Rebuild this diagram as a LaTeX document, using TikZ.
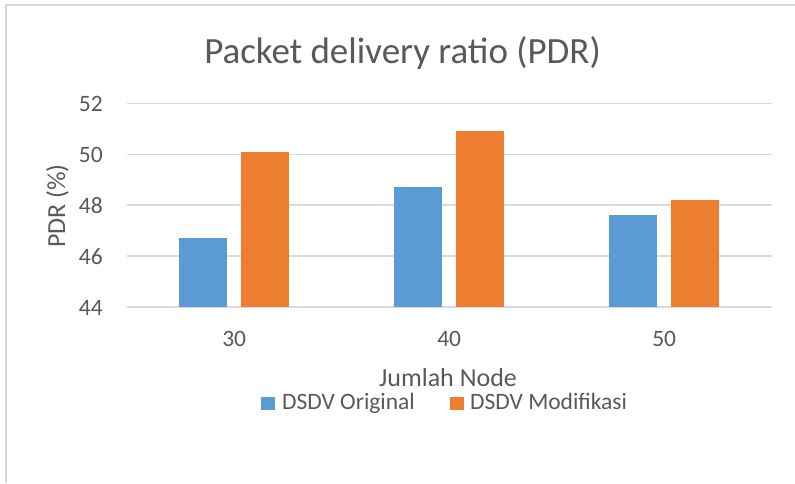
\documentclass[tikz,border=0pt]{standalone}
\usepackage{fontspec}
\setmainfont{Carlito}
\definecolor{txt}{HTML}{595959}
\definecolor{gridc}{HTML}{D9D9D9}
\definecolor{origc}{HTML}{5B9BD5}
\definecolor{modc}{HTML}{ED7D31}
\begin{document}
\begin{tikzpicture}[x=1pt,y=-1pt,
  lbl/.style={inner sep=0pt,text=txt},
  titlefont/.style={lbl,font=\fontsize{37}{40}\selectfont},
  axisfont/.style={lbl,font=\fontsize{26}{30}\selectfont},
  tickfont/.style={lbl,font=\fontsize{23.5}{27}\selectfont},
  gridline/.style={draw=gridc,line width=1.5pt},
  framec/.style={draw=gridc,line width=1.5pt},
  origbar/.style={fill=origc},
  modbar/.style={fill=modc}]
\useasboundingbox (0,0) rectangle (795,483);
\fill[white] (0,0) rectangle (795,483);
% chart frame (top and left edges)
\draw[framec] (795,5) -- (6,5) -- (6,483);
% title
\node[titlefont,anchor=base] (title) at (402.5,63) {Packet delivery ratio (PDR)};
% horizontal gridlines and value labels
\foreach \v in {44,46,48,50,52}{
  \pgfmathsetmacro{\yy}{307-(\v-44)*25.44}
  \draw[gridline] (127,\yy) -- (772,\yy);
  \node[tickfont,anchor=base east] (tick\v) at (103,\yy+8) {\v};
}
% bars
\foreach \c/\cat/\a/\b in {0/30/46.7/50.1, 1/40/48.7/50.9, 2/50/47.6/48.2}{
  \pgfmathsetmacro{\cx}{234.2+215*\c}
  \pgfmathsetmacro{\ya}{307-(\a-44)*25.44}
  \pgfmathsetmacro{\yb}{307-(\b-44)*25.44}
  \fill[origbar] (\cx-55,\ya) rectangle (\cx-7,306.5);
  \fill[modbar] (\cx+6.5,\yb) rectangle (\cx+54.5,306.5);
  \node[tickfont,anchor=base] (cat\cat) at (\cx,346.5) {\cat};
}
% axis titles
\node[axisfont,anchor=base,rotate=90] (ytitle) at (65,206) {PDR (\%)};
\node[axisfont,anchor=base] (xtitle) at (448,386) {Jumlah Node};
% legend
\fill[origbar] (261,396.5) rectangle (274.5,409.5);
\node[tickfont,anchor=base west] (leg1) at (282,409.5) {DSDV Original};
\fill[modbar] (450,396.5) rectangle (463.5,409.5);
\node[tickfont,anchor=base west] (leg2) at (470,409.5) {DSDV Modifikasi};
\end{tikzpicture}
\end{document}
